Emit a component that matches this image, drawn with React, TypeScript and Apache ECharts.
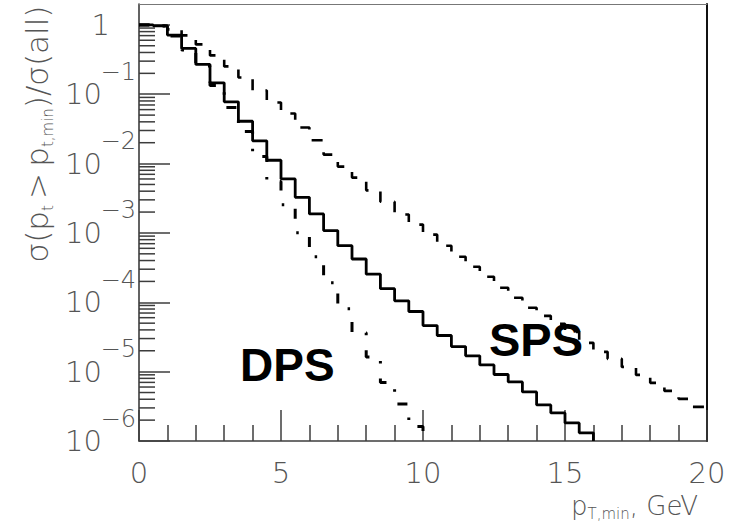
import React, { useEffect, useRef } from "react";
import * as echarts from "echarts";

// Histogram binning (GeV) and axis ranges
const BIN_WIDTH = 0.5;
const X_MIN = 0;
const X_MAX = 20;
const X_MAJOR_STEP = 5;
const Y_MIN = 1e-6;
const Y_MAX = 2;

// Fraction of events with pT above pT,min, one value per 0.5 GeV bin starting at 0
const dashedValues = [
  1.0, 0.967, 0.861, 0.705, 0.523, 0.363, 0.252, 0.1746, 0.1133, 0.076,
  0.0527, 0.0331, 0.0217, 0.01348, 9.05e-3, 6.28e-3, 4.11e-3, 2.82e-3, 1.84e-3, 1.32e-3,
  9.44e-4, 6.55e-4, 4.54e-4, 3.26e-4, 2.34e-4, 1.62e-4, 1.16e-4, 8.33e-5, 6.38e-5, 4.89e-5,
  3.75e-5, 2.6e-5, 1.93e-5, 1.53e-5, 1.17e-5, 8.98e-6, 6.89e-6, 5.28e-6, 4.05e-6, 3.1e-6,
];
const solidValues = [
  1.0, 0.97, 0.713, 0.458, 0.269, 0.146, 0.0778, 0.0408, 0.0213, 0.01117,
  6.01e-3, 3.26e-3, 1.88e-3, 1.08e-3, 6.55e-4, 4.21e-4, 2.54e-4, 1.57e-4, 1.05e-4, 7.37e-5,
  4.62e-5, 3.32e-5, 2.3e-5, 1.69e-5, 1.25e-5, 9.1e-6, 7.1e-6, 5.1e-6, 3.31e-6, 2.54e-6,
  1.82e-6, 1.31e-6,
];
const dashDotValues = [
  1.0, 0.967, 0.694, 0.436, 0.256, 0.1337, 0.0644, 0.029, 0.01262, 5.5e-3,
  2.56e-3, 1.01e-3, 4.54e-4, 1.91e-4, 8.06e-5, 3.63e-5, 1.63e-5, 7.0e-6, 3.42e-6, 1.62e-6,
];

// Log-axis minor ticks: 2..9 times every decade from 1e-6 to 1e-1
const MINOR_MULTIPLIERS = [2, 3, 4, 5, 6, 7, 8, 9];
const MINOR_DECADES = [-6, -5, -4, -3, -2, -1];

const AXIS_COLOR = "#3c3c3c";
const LABEL_COLOR = "#555555";
const THIN_FONT = '"DejaVu Sans ExtraLight", "DejaVu Sans", sans-serif';
const BOLD_FONT = '"Liberation Sans", Arial, sans-serif';

// Turn per-bin values into the outline of a step histogram
function stepOutline(values: number[], closeToFloor: boolean): [number, number][] {
  const pts: [number, number][] = [];
  values.forEach((v, i) => {
    pts.push([X_MIN + i * BIN_WIDTH, v], [X_MIN + (i + 1) * BIN_WIDTH, v]);
  });
  if (closeToFloor) pts.push([X_MIN + values.length * BIN_WIDTH, Y_MIN]);
  return pts;
}

function decadeOf(v: number): number | null {
  const l = Math.log10(v);
  const k = Math.round(l);
  return Math.abs(l - k) < 1e-6 ? k : null;
}

export default function App() {
  const ref = useRef<HTMLDivElement>(null);

  useEffect(() => {
    if (!ref.current) return;
    const chart = echarts.init(ref.current, undefined, { renderer: "svg" });

    const minorTicks: number[][] = [];
    MINOR_DECADES.forEach((d) =>
      MINOR_MULTIPLIERS.forEach((m) => minorTicks.push([X_MIN, m * Math.pow(10, d)]))
    );

    const logAxisBase = {
      type: "log" as const,
      min: Y_MIN,
      max: Y_MAX,
      logBase: 10,
      splitLine: { show: false },
    };

    chart.setOption({
      animation: false,
      backgroundColor: "#ffffff",
      grid: {
        left: 139,
        top: 4,
        right: 39,
        bottom: 84,
        containLabel: false,
        outerBoundsMode: "none",
      },
      xAxis: [
        {
          type: "value",
          min: X_MIN,
          max: X_MAX,
          interval: X_MAJOR_STEP,
          position: "bottom",
          axisLine: { show: true, lineStyle: { color: AXIS_COLOR, width: 1.6 } },
          axisTick: { show: true, inside: true, length: 31, lineStyle: { color: AXIS_COLOR, width: 1.5 } },
          minorTick: { show: true, splitNumber: 5, length: 16, lineStyle: { color: AXIS_COLOR, width: 1.5 } },
          axisLabel: {
            margin: 17,
            fontFamily: THIN_FONT,
            fontWeight: 200,
            fontSize: 29,
            color: LABEL_COLOR,
          },
          splitLine: { show: false },
        },
        {
          type: "value",
          min: X_MIN,
          max: X_MAX,
          position: "top",
          axisLine: { show: true, lineStyle: { color: "#777777", width: 1 } },
          axisTick: { show: false },
          axisLabel: { show: false },
          splitLine: { show: false },
        },
      ],
      yAxis: [
        {
          ...logAxisBase,
          position: "left",
          axisLine: { show: true, lineStyle: { color: AXIS_COLOR, width: 1.6 } },
          axisTick: { show: true, inside: true, length: 31, lineStyle: { color: AXIS_COLOR, width: 1.5 } },
          axisLabel: {
            margin: 29,
            showMaxLabel: false,
            fontFamily: THIN_FONT,
            fontWeight: 200,
            fontSize: 29,
            color: LABEL_COLOR,
            formatter: (v: number) => {
              const k = decadeOf(v);
              if (k === null) return "";
              return k === 0 ? "{one|1}" : "{ten|10}";
            },
            rich: {
              ten: { fontFamily: THIN_FONT, fontWeight: 200, fontSize: 29, color: LABEL_COLOR, padding: [0, 8, 0, 0] },
              one: { fontFamily: THIN_FONT, fontWeight: 200, fontSize: 29, color: LABEL_COLOR },
            },
          },
        },
        {
          // exponents drawn above and to the right of each "10"
          ...logAxisBase,
          position: "left",
          axisLine: { show: false },
          axisTick: { show: false },
          axisLabel: {
            margin: 3,
            showMaxLabel: false,
            fontFamily: THIN_FONT,
            fontWeight: 200,
            fontSize: 24,
            color: LABEL_COLOR,
            verticalAlign: "bottom",
            lineHeight: 45,
            formatter: (v: number) => {
              const k = decadeOf(v);
              if (k === null || k === 0) return "";
              return "\u2212" + String(-k);
            },
          },
        },
        {
          ...logAxisBase,
          position: "right",
          axisLine: { show: true, lineStyle: { color: "#111111", width: 2 } },
          axisTick: { show: false },
          axisLabel: { show: false },
        },
      ],
      series: [
        {
          type: "custom",
          name: "minor ticks",
          coordinateSystem: "cartesian2d",
          xAxisIndex: 0,
          yAxisIndex: 0,
          silent: true,
          clip: false,
          data: minorTicks,
          renderItem: (_params: any, api: any) => {
            const p = api.coord([api.value(0), api.value(1)]);
            return {
              type: "line",
              shape: { x1: p[0], y1: p[1], x2: p[0] + 16, y2: p[1] },
              style: { stroke: AXIS_COLOR, lineWidth: 1.5 },
            };
          },
        },
        {
          type: "line",
          name: "dashed",
          xAxisIndex: 0,
          yAxisIndex: 0,
          showSymbol: false,
          silent: true,
          data: stepOutline(dashedValues, false),
          lineStyle: { color: "#000000", width: 2.6, type: [11, 13], cap: "butt" },
          z: 3,
        },
        {
          type: "line",
          name: "dash-dot",
          xAxisIndex: 0,
          yAxisIndex: 0,
          showSymbol: false,
          silent: true,
          data: stepOutline(dashDotValues, true),
          lineStyle: { color: "#000000", width: 3, type: [10, 15, 2.5, 15], cap: "butt" },
          z: 3,
        },
        {
          type: "line",
          name: "solid",
          xAxisIndex: 0,
          yAxisIndex: 0,
          showSymbol: false,
          silent: true,
          data: stepOutline(solidValues, true),
          lineStyle: { color: "#000000", width: 2.8 },
          z: 4,
        },
      ],
      graphic: [
        {
          type: "text",
          x: 37,
          y: 134,
          rotation: Math.PI / 2,
          style: {
            text: "{a|\u03c3(p}{s|t}{a|\u2009>\u2009p}{s|t,min}{a|)/\u03c3(all)}",
            align: "center",
            verticalAlign: "middle",
            rich: {
              a: { fontFamily: THIN_FONT, fontWeight: 200, fontSize: 31, fill: LABEL_COLOR, lineHeight: 36 },
              s: { fontFamily: THIN_FONT, fontWeight: 200, fontSize: 15, fill: LABEL_COLOR, lineHeight: 16, verticalAlign: "bottom" },
            },
          },
        },
        {
          type: "text",
          x: 571,
          y: 506,
          style: {
            text: "{a|p}{s|T,min}{a|, GeV}",
            align: "left",
            verticalAlign: "middle",
            rich: {
              a: { fontFamily: THIN_FONT, fontWeight: 200, fontSize: 26, fill: LABEL_COLOR, lineHeight: 30 },
              s: { fontFamily: THIN_FONT, fontWeight: 200, fontSize: 15, fill: LABEL_COLOR, lineHeight: 15, verticalAlign: "bottom" },
            },
          },
        },
        {
          type: "text",
          x: 240,
          y: 365,
          style: {
            text: "DPS",
            fontFamily: BOLD_FONT,
            fontWeight: "bold",
            fontSize: 46,
            fill: "#000000",
            align: "left",
            verticalAlign: "middle",
          },
        },
        {
          type: "text",
          x: 489,
          y: 339,
          style: {
            text: "SPS",
            fontFamily: BOLD_FONT,
            fontWeight: "bold",
            fontSize: 47,
            fill: "#000000",
            align: "left",
            verticalAlign: "middle",
          },
        },
      ],
    });

    return () => chart.dispose();
  }, []);

  return (
    <div
      ref={ref}
      style={{ position: "absolute", left: 0, top: 0, width: 746, height: 525, background: "#fff" }}
    />
  );
}
